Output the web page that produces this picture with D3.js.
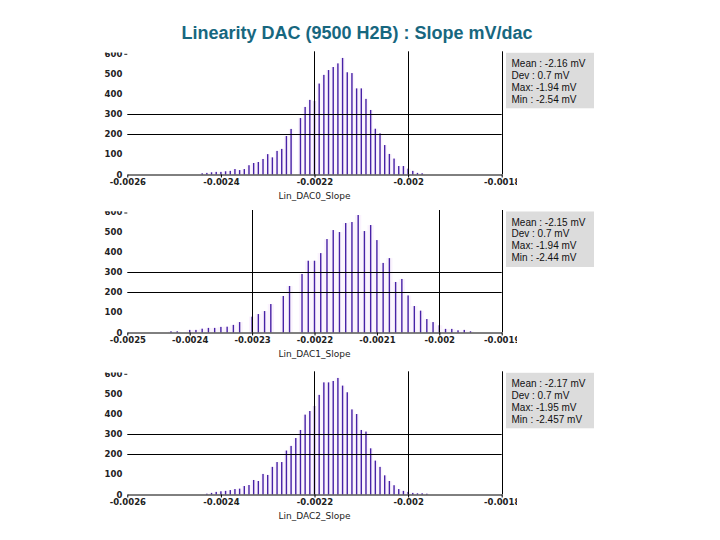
<!DOCTYPE html>
<html><head><meta charset="utf-8">
<script src="https://cdn.jsdelivr.net/npm/d3@7"></script>
<style>
html,body{margin:0;padding:0;background:#fff;}
svg{display:block;}
</style></head>
<body>
<svg id="chart" width="720" height="540"></svg>
<script>
const chartTitle = "Linearity DAC (9500 H2B) : Slope mV/dac";
const axisTitles = ["Lin_DAC0_Slope", "Lin_DAC1_Slope", "Lin_DAC2_Slope"];

const xDomains = [[-0.0026, -0.0018], [-0.0025, -0.0019], [-0.0026, -0.0018]];
const xTickValues = [
  [-0.0026, -0.0024, -0.0022, -0.002, -0.0018],
  [-0.0025, -0.0024, -0.0023, -0.0022, -0.0021, -0.002, -0.0019],
  [-0.0026, -0.0024, -0.0022, -0.002, -0.0018]
];
const xTickLabels = [
  ["-0.0026", "-0.0024", "-0.0022", "-0.002", "-0.0018"],
  ["-0.0025", "-0.0024", "-0.0023", "-0.0022", "-0.0021", "-0.002", "-0.0019"],
  ["-0.0026", "-0.0024", "-0.0022", "-0.002", "-0.0018"]
];
const yTickValues = [0, 100, 200, 300, 400, 500, 600];
const yRefLines = [200, 300];
const limitLines = [[-0.0022, -0.002], [-0.0023, -0.002], [-0.0022, -0.002]];

const dac0Slope = [-0.00244,-0.00243,-0.00242,-0.00241,-0.00240,-0.00239,-0.00238,-0.00237,-0.00236,-0.00235,
  -0.00234,-0.00233,-0.00232,-0.00231,-0.00230,-0.00229,-0.00228,-0.00227,-0.00226,-0.00225,
  -0.00223,-0.00222,-0.00221,-0.00220,-0.00219,-0.00218,-0.00217,-0.00216,-0.00215,-0.00214,
  -0.00213,-0.00212,-0.00211,-0.00210,-0.00209,-0.00208,-0.00207,-0.00206,-0.00205,-0.00204,
  -0.00203,-0.00202,-0.00201,-0.00200,-0.00199,-0.00198,-0.00197];
const dac0Count = [5,7,10,12,12,15,17,26,21,26,
  45,56,61,76,100,84,116,126,190,225,
  279,334,369,364,450,493,517,532,550,577,
  506,502,426,426,374,319,226,203,145,101,
  78,41,41,28,17,7,5];

const dac1Slope = [-0.00243,-0.00242,-0.00240,-0.00239,-0.00238,-0.00237,-0.00236,-0.00235,-0.00234,-0.00233,
  -0.00232,-0.00230,-0.00229,-0.00228,-0.00227,-0.00225,-0.00224,-0.00222,-0.00221,-0.00220,
  -0.00219,-0.00218,-0.00217,-0.00216,-0.00215,-0.00214,-0.00213,-0.00212,-0.00211,-0.00210,
  -0.00209,-0.00208,-0.00207,-0.00206,-0.00205,-0.00204,-0.00203,-0.00202,-0.00201,-0.00200,
  -0.00199,-0.00198,-0.00197,-0.00196,-0.00195];
const dac1Count = [5,5,12,12,18,22,22,27,28,37,
  51,78,91,106,141,181,231,291,357,357,
  395,465,510,500,545,550,585,505,535,460,
  346,370,251,266,184,131,108,66,51,35,
  17,17,10,12,5];

const dac2Slope = [-0.00243,-0.00242,-0.00241,-0.00240,-0.00239,-0.00238,-0.00237,-0.00236,-0.00235,-0.00234,
  -0.00233,-0.00232,-0.00231,-0.00230,-0.00229,-0.00228,-0.00227,-0.00226,-0.00225,-0.00224,
  -0.00223,-0.00222,-0.00221,-0.00220,-0.00219,-0.00218,-0.00217,-0.00216,-0.00215,-0.00214,
  -0.00213,-0.00212,-0.00211,-0.00210,-0.00209,-0.00208,-0.00207,-0.00206,-0.00205,-0.00204,
  -0.00203,-0.00202,-0.00201,-0.00200,-0.00199,-0.00198,-0.00197,-0.00196];
const dac2Count = [3,7,12,15,17,21,26,28,41,46,
  71,66,101,96,136,160,160,217,240,279,
  319,395,413,438,493,555,555,562,577,539,
  506,421,398,319,311,228,167,136,94,66,
  45,26,17,12,7,5,5,3];

const statsLines = [
  ["Mean : -2.16 mV", "Dev : 0.7 mV", "Max: -1.94 mV", "Min : -2.54 mV"],
  ["Mean : -2.15 mV", "Dev : 0.7 mV", "Max: -1.94 mV", "Min : -2.44 mV"],
  ["Mean : -2.17 mV", "Dev : 0.7 mV", "Max: -1.95 mV", "Min : -2.457 mV"]
];

const seriesX = [dac0Slope, dac1Slope, dac2Slope];
const seriesY = [dac0Count, dac1Count, dac2Count];

// layout (not data)
const panelY = [[174.3, 53.3], [332.3, 212.0], [494.3, 373.3]];
const plotLeft = 127.3, plotRight = 501.7;
const barColor = "#4722a6";
const tickFont = "DejaVu Sans";

const svg = d3.select("#chart");

svg.append("text")
  .attr("x", 357).attr("y", 39)
  .attr("text-anchor", "middle")
  .attr("font-family", "Liberation Sans, Arial, sans-serif")
  .attr("font-weight", "bold")
  .attr("font-size", 18)
  .attr("fill", "#17677f")
  .text(chartTitle);

const defs = svg.append("defs");

for (let p = 0; p < 3; p++) {
  const [yBase, yTop] = panelY[p];
  const x = d3.scaleLinear().domain(xDomains[p]).range([plotLeft, plotRight]);
  const y = d3.scaleLinear().domain([0, 600]).range([yBase, yTop]);
  const g = svg.append("g");

  const clipId = "clip" + p;
  defs.append("clipPath").attr("id", clipId)
    .append("rect").attr("x", 0).attr("y", yTop - 0.8).attr("width", 517).attr("height", 200);

  const data = seriesX[p].map((v, i) => ({ v, c: seriesY[p][i] }));
  const binW = Math.abs(x(0.00001) - x(0));

  // faint bin fills
  g.append("g").selectAll("rect").data(data).join("rect")
    .attr("x", d => x(d.v) - binW / 2)
    .attr("width", binW)
    .attr("y", d => y(d.c))
    .attr("height", d => y(0) - y(d.c))
    .attr("fill", "#faf3fd");

  // bars
  g.append("g").selectAll("rect").data(data).join("rect")
    .attr("x", d => x(d.v) - 0.7)
    .attr("width", 1.4)
    .attr("y", d => y(d.c))
    .attr("height", d => y(0) - y(d.c))
    .attr("fill", barColor);

  // reference horizontal lines
  g.append("g").selectAll("line").data(yRefLines).join("line")
    .attr("x1", plotLeft).attr("x2", plotRight)
    .attr("y1", d => Math.round(y(d)) + 0.5).attr("y2", d => Math.round(y(d)) + 0.5)
    .attr("stroke", "#000").attr("stroke-width", 1);

  // limit vertical lines
  g.append("g").selectAll("line").data(limitLines[p]).join("line")
    .attr("x1", d => Math.round(x(d)) + 0.5).attr("x2", d => Math.round(x(d)) + 0.5)
    .attr("y1", yTop - 2).attr("y2", yBase)
    .attr("stroke", "#000").attr("stroke-width", 1);

  // right border
  g.append("line")
    .attr("x1", Math.round(plotRight) + 0.5).attr("x2", Math.round(plotRight) + 0.5)
    .attr("y1", yTop - 2).attr("y2", yBase)
    .attr("stroke", "#000").attr("stroke-width", 1);

  const clipWrap = g.append("g").attr("clip-path", `url(#${clipId})`);

  // x axis
  const xAxis = d3.axisBottom(x)
    .tickValues(xTickValues[p])
    .tickFormat((d, i) => xTickLabels[p][i])
    .tickSizeInner(3).tickSizeOuter(0).tickPadding(1);
  const xg = clipWrap.append("g")
    .attr("transform", `translate(0,${Math.round(yBase) + 0.5})`)
    .call(xAxis);
  xg.select(".domain").attr("stroke", "#000");
  xg.selectAll(".tick line").attr("stroke", "#000");
  xg.selectAll(".tick text")
    .attr("font-family", tickFont).attr("font-weight", "bold")
    .attr("font-size", 8.5).attr("fill", "#222");

  // y axis
  const yAxis = d3.axisLeft(y)
    .tickValues(yTickValues)
    .tickFormat(d3.format("d"))
    .tickSize(0).tickPadding(5);
  const yg = clipWrap.append("g")
    .attr("transform", `translate(${plotLeft},0)`)
    .call(yAxis);
  yg.select(".domain").remove();
  yg.selectAll(".tick text")
    .attr("font-family", tickFont).attr("font-weight", "bold")
    .attr("font-size", 8.5).attr("fill", "#222");
  yg.selectAll(".tick").filter(d => d === 600)
    .append("line").attr("x1", -3).attr("x2", 0).attr("y1", 0.5).attr("y2", 0.5).attr("stroke", "#222");

  // axis title
  g.append("text")
    .attr("x", x((xDomains[p][0] + xDomains[p][1]) / 2))
    .attr("y", yBase + 25)
    .attr("text-anchor", "middle")
    .attr("font-family", tickFont)
    .attr("font-size", 9)
    .attr("fill", "#222")
    .text(axisTitles[p]);

  // stats box
  const bx = 506, by = yTop - 0.5;
  g.append("rect").attr("x", bx).attr("y", by).attr("width", 88).attr("height", 55.5)
    .attr("fill", "#dcdcdc");
  g.append("g").selectAll("text").data(statsLines[p]).join("text")
    .attr("x", bx + 5.5)
    .attr("y", (d, i) => by + 14 + i * 11.9)
    .attr("font-family", "Liberation Sans, Arial, sans-serif")
    .attr("font-size", 10)
    .attr("fill", "#111")
    .text(d => d);
}
</script>
</body></html>
